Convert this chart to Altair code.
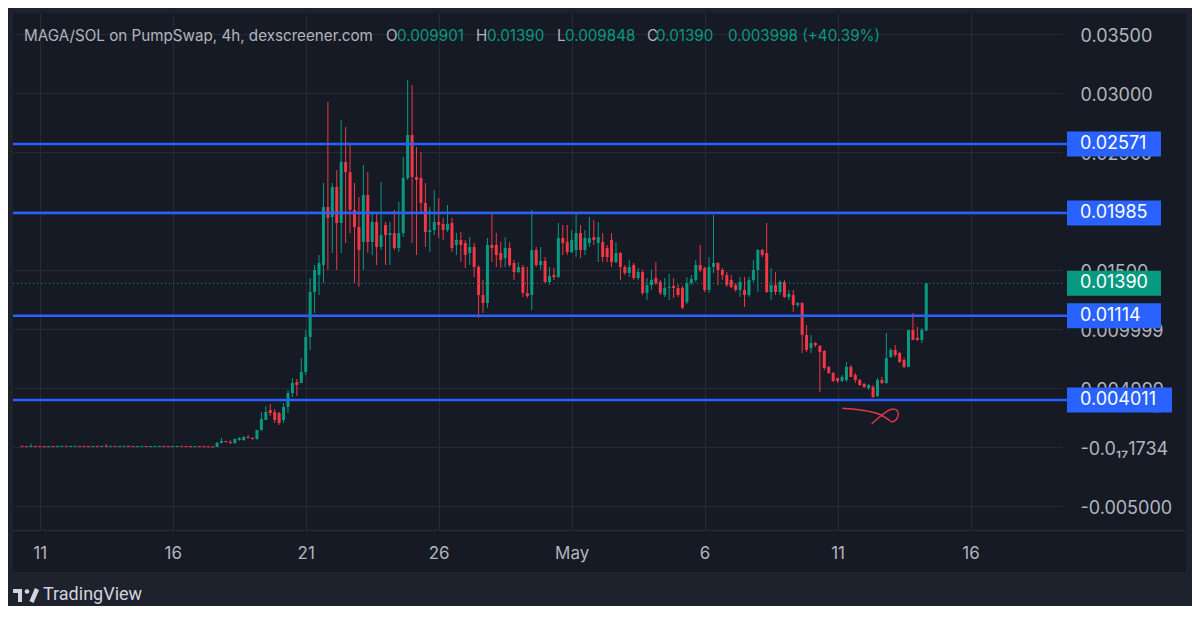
import altair as alt
import pandas as pd

# ---------------- data (4h candles from 2025-04-10 08:00) ----------------
OPEN_FLAT = [0.00009, 0.00007, 0.00006, 0.00008, 0.00007, 0.00006, 0.00005, 0.00007, 0.00006, 0.00008,
             0.00009, 0.00007, 0.00008, 0.00009, 0.00008, 0.00007, 0.00006, 0.00008, 0.00007, 0.00009,
             0.00008, 0.00009, 0.00007, 0.00008, 0.00009, 0.00008, 0.00006, 0.00007, 0.00008, 0.00006,
             0.00007, 0.00008, 0.00009, 0.00007, 0.00006, 0.00007, 0.00008, 0.00007, 0.00006, 0.00005,
             0.00007, 0.00006, 0.00005, 0.00004]
CLOSE_FLAT = [0.00007, 0.00006, 0.00008, 0.00007, 0.00006, 0.00005, 0.00007, 0.00006, 0.00008, 0.00009,
              0.00007, 0.00008, 0.00009, 0.00008, 0.00007, 0.00006, 0.00008, 0.00007, 0.00009, 0.00008,
              0.00009, 0.00007, 0.00008, 0.00009, 0.00008, 0.00006, 0.00007, 0.00008, 0.00006, 0.00007,
              0.00008, 0.00009, 0.00007, 0.00006, 0.00007, 0.00008, 0.00007, 0.00006, 0.00005, 0.00007,
              0.00006, 0.00005, 0.00004, 0.00003]
HIGH_FLAT = [0.00011, 0.00009, 0.00030, 0.00010, 0.00009, 0.00008, 0.00009, 0.00009, 0.00010, 0.00011,
             0.00011, 0.00010, 0.00011, 0.00011, 0.00010, 0.00009, 0.00010, 0.00010, 0.00011, 0.00025,
             0.00011, 0.00011, 0.00010, 0.00011, 0.00011, 0.00010, 0.00009, 0.00010, 0.00010, 0.00009,
             0.00010, 0.00011, 0.00011, 0.00009, 0.00009, 0.00010, 0.00010, 0.00009, 0.00008, 0.00009,
             0.00009, 0.00008, 0.00007, 0.00006]
LOW_FLAT = [0.00005, 0.00004, 0.00004, 0.00005, 0.00004, 0.00003, 0.00003, 0.00004, 0.00004, 0.00006,
            0.00005, 0.00005, 0.00006, 0.00006, 0.00005, 0.00004, 0.00004, 0.00005, 0.00005, 0.00006,
            0.00006, 0.00005, 0.00005, 0.00006, 0.00006, 0.00004, 0.00004, 0.00005, 0.00004, 0.00004,
            0.00005, 0.00006, 0.00005, 0.00004, 0.00004, 0.00005, 0.00005, 0.00004, 0.00003, 0.00003,
            0.00004, 0.00003, 0.00002, 0.00001]

OPEN_MAIN = [
    0.00003, 0.00036, 0.00053, 0.00045, 0.00036, 0.00062, 0.00062, 0.00087, 0.00079, 0.00070,
    0.00147, 0.00231, 0.00316, 0.00299, 0.00291, 0.00231, 0.00342, 0.00460, 0.00553, 0.00545,
    0.00638, 0.00935, 0.01316, 0.01460, 0.01545, 0.02037, 0.01952, 0.02206, 0.01901, 0.02418,
    0.02333, 0.02011, 0.01867, 0.01740, 0.02138, 0.01740, 0.01910, 0.01698, 0.01884, 0.01799,
    0.01816, 0.01689, 0.01816, 0.02283, 0.02647, 0.02291, 0.02283, 0.02071, 0.01825, 0.01842,
    0.01910, 0.01893, 0.01842, 0.01901, 0.01715, 0.01757, 0.01732, 0.01647, 0.01698, 0.01528,
    0.01291, 0.01223, 0.01715, 0.01715, 0.01647, 0.01604, 0.01689, 0.01562, 0.01486, 0.01528,
    0.01308, 0.01291, 0.01672, 0.01545, 0.01579, 0.01401, 0.01460, 0.01443, 0.01774, 0.01740,
    0.01655, 0.01672, 0.01816, 0.01672, 0.01732, 0.01782, 0.01732, 0.01740, 0.01689, 0.01757,
    0.01570, 0.01647, 0.01528, 0.01477, 0.01545, 0.01435, 0.01486, 0.01308, 0.01375, 0.01435,
    0.01401, 0.01291, 0.01350, 0.01367, 0.01350, 0.01350, 0.01231, 0.01392, 0.01418, 0.01545,
    0.01520, 0.01333, 0.01528, 0.01562, 0.01503, 0.01460, 0.01418, 0.01375, 0.01333, 0.01333,
    0.01291, 0.01418, 0.01503, 0.01672, 0.01647, 0.01316, 0.01375, 0.01316, 0.01401, 0.01274,
    0.01291, 0.01206, 0.01223, 0.00952, 0.00842, 0.00884, 0.00859, 0.00816, 0.00681, 0.00630,
    0.00587, 0.00562, 0.00570, 0.00681, 0.00613, 0.00570, 0.00537, 0.00503, 0.00511, 0.00435,
    0.00570, 0.00545, 0.00765, 0.00825, 0.00799, 0.00740, 0.00681, 0.00994, 0.00927, 0.00910,
    0.009901]
HIGH_MAIN = [
    0.00045, 0.00079, 0.00055, 0.00060, 0.00075, 0.00087, 0.00095, 0.00104, 0.00085, 0.00147,
    0.00299, 0.00350, 0.00367, 0.00325, 0.00299, 0.00376, 0.00486, 0.00587, 0.00579, 0.00757,
    0.00994, 0.01435, 0.01545, 0.01630, 0.02240, 0.02927, 0.02240, 0.02350, 0.02774, 0.02715,
    0.02562, 0.02240, 0.02121, 0.02393, 0.02333, 0.01994, 0.01994, 0.02249, 0.01910, 0.01910,
    0.02011, 0.02079, 0.02461, 0.03113, 0.03071, 0.02545, 0.02503, 0.02240, 0.02037, 0.02181,
    0.02113, 0.01944, 0.02054, 0.01944, 0.01816, 0.01825, 0.01757, 0.01782, 0.01732, 0.01545,
    0.01418, 0.01774, 0.01986, 0.01816, 0.01740, 0.01782, 0.01740, 0.01587, 0.01570, 0.01545,
    0.01528, 0.02011, 0.01698, 0.01698, 0.01613, 0.01528, 0.01520, 0.01901, 0.01884, 0.01884,
    0.01842, 0.01986, 0.01884, 0.01842, 0.01952, 0.01927, 0.01910, 0.01816, 0.01715, 0.01816,
    0.01740, 0.01655, 0.01545, 0.01587, 0.01562, 0.01520, 0.01503, 0.01435, 0.01503, 0.01570,
    0.01418, 0.01435, 0.01469, 0.01435, 0.01384, 0.01367, 0.01443, 0.01460, 0.01587, 0.01715,
    0.01530, 0.01613, 0.01969, 0.01570, 0.01520, 0.01486, 0.01460, 0.01392, 0.01443, 0.01443,
    0.01443, 0.01587, 0.01680, 0.01681, 0.01901, 0.01520, 0.01486, 0.01418, 0.01418, 0.01333,
    0.01333, 0.01231, 0.01231, 0.01037, 0.00952, 0.00893, 0.00867, 0.00825, 0.00690, 0.00638,
    0.00590, 0.00613, 0.00723, 0.00698, 0.00630, 0.00579, 0.00545, 0.00537, 0.00528, 0.00587,
    0.00596, 0.00969, 0.00842, 0.00867, 0.00808, 0.00757, 0.00994, 0.01138, 0.01020, 0.01011,
    0.01390]
LOW_MAIN = [
    0.00003, 0.00036, 0.00040, 0.00030, 0.00030, 0.00055, 0.00055, 0.00075, 0.00065, 0.00065,
    0.00140, 0.00231, 0.00265, 0.00206, 0.00189, 0.00206, 0.00291, 0.00426, 0.00435, 0.00545,
    0.00613, 0.00825, 0.01138, 0.01291, 0.01392, 0.01503, 0.01647, 0.01503, 0.01647, 0.01732,
    0.01816, 0.01392, 0.01358, 0.01503, 0.01647, 0.01630, 0.01545, 0.01672, 0.01545, 0.01545,
    0.01672, 0.01655, 0.01782, 0.02266, 0.01732, 0.01630, 0.01986, 0.01698, 0.01655, 0.01799,
    0.01774, 0.01757, 0.01825, 0.01655, 0.01630, 0.01570, 0.01520, 0.01545, 0.01443, 0.01096,
    0.01138, 0.01181, 0.01570, 0.01528, 0.01520, 0.01528, 0.01528, 0.01418, 0.01477, 0.01274,
    0.01265, 0.01164, 0.01528, 0.01503, 0.01392, 0.01375, 0.01418, 0.01435, 0.01630, 0.01630,
    0.01647, 0.01613, 0.01604, 0.01630, 0.01698, 0.01715, 0.01570, 0.01570, 0.01570, 0.01528,
    0.01562, 0.01418, 0.01460, 0.01443, 0.01418, 0.01418, 0.01291, 0.01248, 0.01333, 0.01375,
    0.01291, 0.01274, 0.01248, 0.01265, 0.01274, 0.01170, 0.01214, 0.01375, 0.01401, 0.01486,
    0.01316, 0.01308, 0.01477, 0.01375, 0.01418, 0.01358, 0.01350, 0.01316, 0.01274, 0.01189,
    0.01274, 0.01401, 0.01316, 0.01613, 0.01308, 0.01248, 0.01291, 0.01291, 0.01265, 0.01248,
    0.01147, 0.01189, 0.00799, 0.00808, 0.00799, 0.00850, 0.00469, 0.00655, 0.00621, 0.00553,
    0.00545, 0.00553, 0.00553, 0.00596, 0.00545, 0.00520, 0.00503, 0.00486, 0.00418, 0.00426,
    0.00537, 0.00537, 0.00757, 0.00765, 0.00715, 0.00672, 0.00681, 0.00910, 0.00901, 0.00884,
    0.009848]
CLOSE_MAIN = [
    0.00036, 0.00053, 0.00045, 0.00036, 0.00070, 0.00079, 0.00087, 0.00079, 0.00070, 0.00147,
    0.00240, 0.00299, 0.00291, 0.00231, 0.00206, 0.00342, 0.00460, 0.00545, 0.00528, 0.00638,
    0.00935, 0.01316, 0.01503, 0.01562, 0.02037, 0.01944, 0.02206, 0.01901, 0.02418, 0.02333,
    0.02011, 0.01867, 0.01672, 0.02138, 0.01740, 0.01910, 0.01698, 0.01799, 0.01799, 0.01816,
    0.01689, 0.01816, 0.02283, 0.02647, 0.02291, 0.02266, 0.02071, 0.01825, 0.01842, 0.01910,
    0.01884, 0.01842, 0.01893, 0.01689, 0.01757, 0.01715, 0.01630, 0.01698, 0.01528, 0.01291,
    0.01223, 0.01715, 0.01689, 0.01630, 0.01587, 0.01689, 0.01545, 0.01486, 0.01528, 0.01308,
    0.01282, 0.01672, 0.01545, 0.01579, 0.01401, 0.01452, 0.01443, 0.01774, 0.01732, 0.01655,
    0.01757, 0.01816, 0.01672, 0.01774, 0.01774, 0.01757, 0.01782, 0.01613, 0.01613, 0.01570,
    0.01647, 0.01528, 0.01477, 0.01528, 0.01435, 0.01486, 0.01308, 0.01375, 0.01418, 0.01392,
    0.01308, 0.01350, 0.01358, 0.01350, 0.01291, 0.01181, 0.01392, 0.01426, 0.01545, 0.01503,
    0.01333, 0.01528, 0.01562, 0.01503, 0.01460, 0.01375, 0.01358, 0.01333, 0.01401, 0.01291,
    0.01418, 0.01503, 0.01672, 0.01630, 0.01316, 0.01375, 0.01316, 0.01401, 0.01274, 0.01299,
    0.01206, 0.01223, 0.00952, 0.00825, 0.00884, 0.00867, 0.00808, 0.00672, 0.00630, 0.00562,
    0.00562, 0.00596, 0.00681, 0.00596, 0.00570, 0.00528, 0.00511, 0.00528, 0.00426, 0.00570,
    0.00545, 0.00757, 0.00825, 0.00782, 0.00723, 0.00681, 0.00994, 0.00910, 0.00910, 0.00994,
    0.01390]

OPEN = OPEN_FLAT + OPEN_MAIN
HIGH = HIGH_FLAT + HIGH_MAIN
LOW = LOW_FLAT + LOW_MAIN
CLOSE = CLOSE_FLAT + CLOSE_MAIN

LEVELS = [0.02571, 0.01985, 0.01114, 0.004011]
LEVEL_LABELS = ["0.02571", "0.01985", "0.01114", "0.004011"]
LAST_PRICE = 0.0139
LAST_LABEL = "0.01390"

# the 0.02000 tick label sits entirely under the 0.01985 box, so it is left blank
Y_TICKS = [0.035, 0.03, 0.025, 0.02, 0.015, 0.009999, 0.004999, 0.0, -0.005]
Y_LABELS = ["0.03500", "0.03000", "0.02500", "", "0.01500", "0.009999", "0.004999",
            "-0.0\u2081\u20871734", "-0.005000"]
X_TICKS = [1, 6, 11, 16, 21, 26, 31, 36]          # days since 10 Apr
X_LABELS = ["11", "16", "21", "26", "May", "6", "11", "16"]

SCRIB_DAY = [31.17, 31.85, 32.47, 32.84, 33.03, 33.19, 33.28, 33.22, 33.03, 32.84, 32.59, 32.28]
SCRIB_VAL = [0.003306, 0.003162, 0.002882, 0.002458, 0.00217, 0.002314, 0.002738, 0.003162,
             0.003221, 0.003017, 0.002594, 0.001975]

# ---------------- style ----------------
UP, DOWN, BLUE = "#089981", "#f23645", "#2962ff"
BG, FRAME, GRID, TXT = "#161a25", "#1e222d", "#262a36", "#b2b5be"
FONT = "Inter"

df = pd.DataFrame({"o": OPEN, "h": HIGH, "l": LOW, "c": CLOSE})
df["day"] = [(i + 2) / 6 for i in range(len(df))]
df["dir"] = ["up" if c >= o else "down" for o, c in zip(df.o, df.c)]
top = df[["o", "c"]].max(axis=1)
bot = df[["o", "c"]].min(axis=1)
mid = (top + bot) / 2
thin = (top - bot) < 0.00009
df["top"] = top.where(~thin, mid + 0.000045)
df["bot"] = bot.where(~thin, mid - 0.000045)

xs = alt.Scale(domain=[0.181, 39.25], nice=False, zero=False)
ys = alt.Scale(domain=[-0.00701, 0.03681], nice=False, zero=False)
col = alt.Color("dir:N", scale=alt.Scale(domain=["up", "down"], range=[UP, DOWN]), legend=None)


def label_expr(vals, labs):
    e = "''"
    for v, l in reversed(list(zip(vals, labs))):
        e = f"datum.value == {v} ? '{l}' : ({e})"
    return e


xaxis = alt.Axis(values=X_TICKS, labelExpr=label_expr(X_TICKS, X_LABELS), grid=True, gridColor=GRID,
                 gridOpacity=1, domain=False, ticks=False, labelPadding=23, labelBaseline="middle",
                 labelColor=TXT, labelFontSize=17, labelFont=FONT, labelOverlap=False,
                 labelFlush=False, title=None)
yaxis = alt.Axis(orient="right", values=Y_TICKS, labelExpr=label_expr(Y_TICKS, Y_LABELS), grid=True,
                 gridColor=GRID, gridOpacity=1, domain=False, ticks=False, labelPadding=18,
                 labelAlign="left", labelBaseline="middle", labelColor=TXT, labelFontSize=18,
                 labelFont=FONT, labelOverlap=False, labelFlush=False, labelOffset=2, title=None)

base = alt.Chart(df)
wicks = base.mark_rule(strokeWidth=1).encode(
    x=alt.X("day:Q", scale=xs, axis=xaxis),
    y=alt.Y("l:Q", scale=ys, axis=yaxis),
    y2="h:Q", color=col)
bodies = base.mark_bar(size=3).encode(
    x=alt.X("day:Q", scale=xs),
    y=alt.Y("bot:Q", scale=ys),
    y2="top:Q", color=col)

# frame strips (lighter border around the dark panel)
def strip(x1, x2, y1, y2, color=FRAME):
    return alt.Chart(pd.DataFrame({"a": [0]})).mark_rect(color=color).encode(
        x=alt.value(x1), x2=alt.value(x2), y=alt.value(y1), y2=alt.value(y2))

frame = [strip(-5, 1180, -5, 0), strip(-5, 0, -5, 600), strip(1173, 1180, -5, 600),
         strip(-5, 1180, 559, 600)]
sep = alt.Chart(pd.DataFrame({"a": [0]})).mark_rule(color="#2a2e39", strokeWidth=1).encode(
    x=alt.value(0), x2=alt.value(1173), y=alt.value(517.5))

lev = pd.DataFrame({"v": LEVELS, "label": LEVEL_LABELS})
last = pd.DataFrame({"v": [LAST_PRICE], "label": [LAST_LABEL]})

last_line = alt.Chart(last).mark_rule(color=UP, strokeWidth=1, strokeDash=[1, 3]).encode(
    y=alt.Y("v:Q", scale=ys), x=alt.value(0), x2=alt.value(1049))
lev_lines = alt.Chart(lev).mark_rule(color=BLUE, strokeWidth=2.5).encode(
    y=alt.Y("v:Q", scale=ys), x=alt.value(0), x2=alt.value(1056))

scrib = alt.Chart(pd.DataFrame({"d": SCRIB_DAY, "v": SCRIB_VAL, "i": list(range(len(SCRIB_DAY)))})) \
    .mark_line(color="#e2384a", strokeWidth=1.4, interpolate="cardinal").encode(
    x=alt.X("d:Q", scale=xs), y=alt.Y("v:Q", scale=ys), order="i:Q")

lev_box = alt.Chart(lev).mark_rule(color=BLUE, strokeWidth=25).encode(
    y=alt.Y("v:Q", scale=ys), x=alt.value(1054), x2=alt.value(1148))
lev_box_wide = alt.Chart(lev).transform_filter("length(datum.label) > 7").mark_rule(
    color=BLUE, strokeWidth=25).encode(
    y=alt.Y("v:Q", scale=ys), x=alt.value(1140), x2=alt.value(1159))
last_box = alt.Chart(last).mark_rule(color=UP, strokeWidth=25).encode(
    y=alt.Y("v:Q", scale=ys), x=alt.value(1054), x2=alt.value(1148))
box_text = alt.Chart(pd.concat([lev, last])).mark_text(
    align="left", baseline="middle", color="#ffffff", fontSize=18, font=FONT).encode(
    y=alt.Y("v:Q", scale=ys), x=alt.value(1067), text="label:N")

# header
def htext(txt, x, color):
    return alt.Chart(pd.DataFrame({"t": [txt]})).mark_text(
        align="left", baseline="middle", color=color, fontSize=15.2, font=FONT).encode(
        x=alt.value(x), y=alt.value(23), text="t:N")

header = [htext("MAGA/SOL on PumpSwap, 4h, dexscreener.com", 11, TXT),
          htext("O", 373, TXT), htext("0.009901", 384, UP),
          htext("H", 463, TXT), htext("0.01390", 474, UP),
          htext("L", 544, TXT), htext("0.009848", 552, UP),
          htext("C", 634, TXT), htext("0.01390", 643, UP),
          htext("0.003998 (+40.39%)", 715, UP)]

# TradingView logo
LOGO = "#d1d4dc"
logo = [strip(0, 9, 576, 580, LOGO), strip(5, 9, 576, 589, LOGO),
        alt.Chart(pd.DataFrame({"a": [0]})).mark_point(filled=True, size=22, color=LOGO, opacity=1).encode(
            x=alt.value(14), y=alt.value(578.5)),
        alt.Chart(pd.DataFrame({"a": [0]})).mark_rule(color=LOGO, strokeWidth=4.5).encode(
            x=alt.value(18.5), x2=alt.value(24), y=alt.value(589), y2=alt.value(576)),
        alt.Chart(pd.DataFrame({"t": ["TradingView"]})).mark_text(
            align="left", baseline="middle", color=LOGO, fontSize=18, font="Roboto").encode(
            x=alt.value(30), y=alt.value(582), text="t:N")]

chart = alt.layer(
    wicks, bodies, *frame, sep, last_line, lev_lines, scrib,
    lev_box, lev_box_wide, last_box, box_text, *header, *logo
).properties(
    width=1049, height=517,
    autosize=alt.AutoSizeParams(type="none"),
    padding={"left": 5, "top": 5, "right": 130, "bottom": 76},
    background=BG,
).configure_view(stroke=None, fill=BG)

chart.save("out.html", embed_options={"renderer": "svg", "actions": False})
